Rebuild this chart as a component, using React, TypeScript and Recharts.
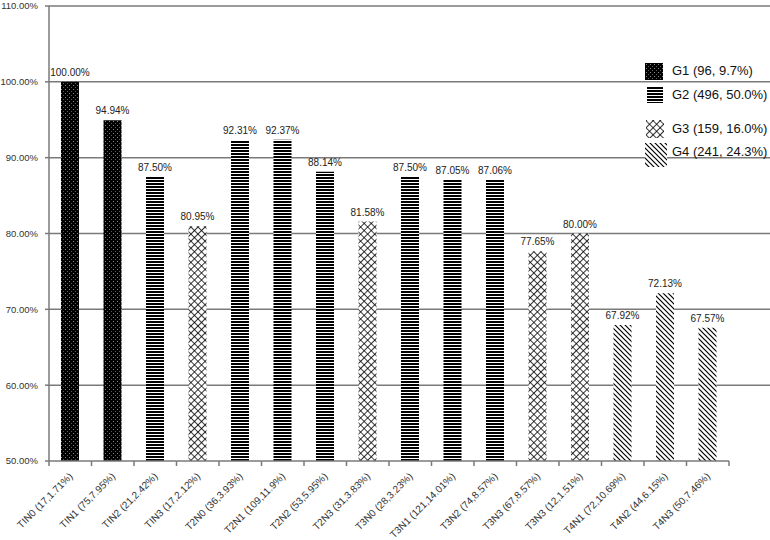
import React from "react";
import { BarChart, Bar, XAxis, YAxis, CartesianGrid, Cell, LabelList, Legend } from "recharts";

const labels = [
  "TIN0 (17,1.71%)", "TIN1 (75,7.95%)", "TIN2 (21,2.42%)", "TIN3 (17,2.12%)",
  "T2N0 (36,3.93%)", "T2N1 (109,11.9%)", "T2N2 (53,5.95%)", "T2N3 (31,3.83%)",
  "T3N0 (28,3.23%)", "T3N1 (121,14.01%)", "T3N2 (74,8.57%)", "T3N3 (67,8.57%)",
  "T3N3 (12,1.51%)", "T4N1 (72,10.69%)", "T4N2 (44,6.15%)", "T4N3 (50,7.46%)",
];
const values = [100.0, 94.94, 87.5, 80.95, 92.31, 92.37, 88.14, 81.58, 87.5, 87.05, 87.06, 77.65, 80.0, 67.92, 72.13, 67.57];
const groups = ["G1", "G1", "G2", "G3", "G2", "G2", "G2", "G3", "G2", "G2", "G2", "G3", "G3", "G4", "G4", "G4"];
const groupNames = ["G1", "G2", "G3", "G4"];
const legendLabels = ["G1 (96, 9.7%)", "G2 (496, 50.0%)", "G3 (159, 16.0%)", "G4 (241, 24.3%)"];
const yTicks = [50, 60, 70, 80, 90, 100, 110];
const Y_MIN = 50;
const Y_MAX = 110;

const data = labels.map((label, i) => ({ label, value: values[i], group: groups[i] }));

const FONT = "'Liberation Sans', Arial, sans-serif";
const GRID = "#7a7a7a";

const XTick = (props: any) => {
  const { x, y, payload, index } = props;
  const half = payload && payload.offset ? payload.offset : 21.25;
  const last = index === labels.length - 1;
  return (
    <g>
      <line x1={x - half} y1={y} x2={x + half} y2={y} stroke={GRID} strokeWidth={1.5} />
      <line x1={x - half} y1={y} x2={x - half} y2={y + 5} stroke={GRID} strokeWidth={1.5} />
      {last && <line x1={x + half} y1={y} x2={x + half} y2={y + 5} stroke={GRID} strokeWidth={1.5} />}
      <text
        x={0}
        y={0}
        transform={`translate(${x + 3},${y + 16}) rotate(-45)`}
        textAnchor="end"
        fontSize={10}
        fontFamily={FONT}
        fill="#333"
      >
        {payload.value}
      </text>
    </g>
  );
};

const swatchBoxes = [
  { left: 645, top: 63, w: 18, h: 17 },
  { left: 647, top: 87, w: 16, h: 16 },
  { left: 646, top: 120, w: 18, h: 18 },
  { left: 645, top: 143, w: 22, h: 24 },
];
const textTops = [63, 87, 121, 144];

const LegendContent = () => (
  <div style={{ position: "relative", width: 770, height: 0 }}>
    {groupNames.map((g, i) => (
      <React.Fragment key={g}>
        <div style={{ position: "absolute", left: swatchBoxes[i].left, top: swatchBoxes[i].top }}>
          <svg width={swatchBoxes[i].w} height={swatchBoxes[i].h} style={{ display: "block" }}>
            <rect width={swatchBoxes[i].w} height={swatchBoxes[i].h} fill={`url(#p${g})`} />
          </svg>
        </div>
        <div
          style={{
            position: "absolute",
            left: 672,
            top: textTops[i],
            fontSize: 13,
            fontFamily: FONT,
            color: "#111",
            whiteSpace: "nowrap",
            lineHeight: "15px",
          }}
        >
          {legendLabels[i]}
        </div>
      </React.Fragment>
    ))}
  </div>
);

export default function App() {
  return (
    <div style={{ position: "absolute", left: 0, top: 0, width: 770, height: 540, background: "#fff" }}>
      <svg width={0} height={0} style={{ position: "absolute" }}>
        <defs>
          <pattern id="pG1" width="4" height="4" patternUnits="userSpaceOnUse">
            <rect width="4" height="4" fill="#000" />
            <rect x="1" y="1" width="1" height="1" fill="#8a8a8a" />
            <rect x="3" y="3" width="1" height="1" fill="#5a5a5a" />
          </pattern>
          <pattern id="pG2" width="4" height="3" patternUnits="userSpaceOnUse">
            <rect width="4" height="3" fill="#fff" />
            <rect width="4" height="2" fill="#000" />
          </pattern>
          <pattern id="pG3" width="5" height="5" patternUnits="userSpaceOnUse" patternTransform="rotate(45)">
            <rect width="5" height="5" fill="#fff" />
            <path d="M0 0 H5 M0 0 V5" stroke="#000" strokeWidth={1.6} />
          </pattern>
          <pattern id="pG4" width="5" height="5" patternUnits="userSpaceOnUse">
            <rect width="5" height="5" fill="#fff" />
            <path d="M0 0 L5 5 M-1 4 L1 6 M4 -1 L6 1" stroke="#000" strokeWidth={1.2} />
          </pattern>
        </defs>
      </svg>
      <BarChart
        width={770}
        height={540}
        data={data}
        margin={{ top: 6, right: 0, bottom: 0, left: 0 }}
        barSize={18}
      >
        <CartesianGrid
          vertical={false}
          stroke={GRID}
          strokeWidth={1.5}
          horizontalCoordinatesGenerator={(p: any) =>
            yTicks
              .filter((t) => t > Y_MIN)
              .map((t) => p.offset.top + (p.offset.height * (Y_MAX - t)) / (Y_MAX - Y_MIN))
          }
        />
        <XAxis
          dataKey="label"
          interval={0}
          height={79}
          axisLine={false}
          tickLine={false}
          tickSize={0}
          tickMargin={0}
          padding={{ left: 0, right: 41 }}
          tick={<XTick />}
        />
        <YAxis
          width={49}
          domain={[Y_MIN, Y_MAX]}
          ticks={yTicks}
          allowDataOverflow
          tickFormatter={(v: number) => `${v.toFixed(2)}%`}
          tick={{ fontSize: 9.5, fontFamily: FONT, fill: "#333" }}
          stroke={GRID}
          strokeWidth={1.5}
          tickSize={4}
          tickMargin={7}
        />
        <Legend content={<LegendContent />} verticalAlign="top" align="left" wrapperStyle={{ top: 0, left: 0 }} />
        <Bar dataKey="value" isAnimationActive={false}>
          {data.map((d, i) => (
            <Cell key={i} fill={`url(#p${d.group})`} />
          ))}
          <LabelList
            dataKey="value"
            position="top"
            offset={6}
            formatter={(v: any) => `${Number(v).toFixed(2)}%`}
            style={{ fontSize: 10, fontFamily: FONT, fill: "#222" }}
          />
        </Bar>
      </BarChart>
    </div>
  );
}
